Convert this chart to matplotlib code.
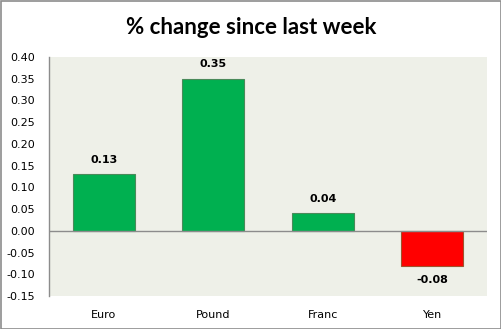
import matplotlib
matplotlib.use("Agg")
import matplotlib.pyplot as plt
from matplotlib.patches import Rectangle

categories = ["Euro", "Pound", "Franc", "Yen"]
values = [0.13, 0.35, 0.04, -0.08]
yticks = [-0.15, -0.10, -0.05, 0.00, 0.05, 0.10, 0.15, 0.20, 0.25, 0.30, 0.35, 0.40]
title = "% change since last week"

W, H = 502, 329
fig = plt.figure(figsize=(W / 100, H / 100), dpi=100)
fig.patch.set_facecolor("white")
fig.add_artist(Rectangle((0.5 / W, 0.5 / H), 1 - 1.5 / W, 1 - 1.5 / H, transform=fig.transFigure,
                         fill=False, edgecolor="#8c8c8c", linewidth=1.2))

left, right, top, bottom = 49, 487, 57, 296
ax = fig.add_axes([left / W, 1 - bottom / H, (right - left) / W, (bottom - top) / H])
ax.set_facecolor("#eef0e8")

colors = ["#00b050" if v >= 0 else "#ff0000" for v in values]
edges = ["#4a8a5a" if v >= 0 else "#a0522d" for v in values]
x = list(range(len(categories)))
ax.bar(x, values, width=0.57, color=colors, edgecolor=edges, linewidth=0.8, zorder=3)

ax.set_xlim(-0.5, len(categories) - 0.5)
ax.set_ylim(-0.15, 0.40)
ax.set_yticks(yticks)
ax.set_yticklabels([f"{t:.2f}" for t in yticks], fontsize=8, family="DejaVu Sans")
ax.set_xticks(x)
ax.set_xticklabels(categories, fontsize=8, family="DejaVu Sans")
ax.tick_params(axis="both", length=0)
ax.tick_params(axis="y", pad=10)
ax.tick_params(axis="x", pad=10)
ax.axhline(0, color="#8c8c8c", linewidth=1, zorder=4)
for s in ["top", "right", "bottom"]:
    ax.spines[s].set_visible(False)
ax.spines["left"].set_color("#8c8c8c")
ax.spines["left"].set_linewidth(1)

for xi, v in zip(x, values):
    if v >= 0:
        ax.annotate(f"{v:.2f}", (xi, v), xytext=(0, 7), textcoords="offset points",
                    ha="center", va="bottom", fontsize=8, fontweight="bold")
    else:
        ax.annotate(f"{v:.2f}", (xi, v), xytext=(0, -7), textcoords="offset points",
                    ha="center", va="top", fontsize=8, fontweight="bold")

fig.text(0.5, 1 - 27 / H, title, ha="center", va="center", fontsize=16,
         fontweight="bold", family="Lato")

fig.savefig("out.png", dpi=100)
